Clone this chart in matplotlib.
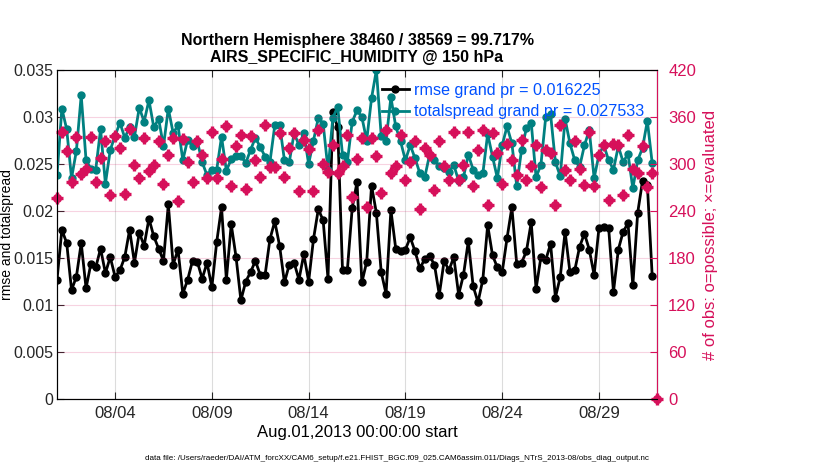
import numpy as np
import matplotlib
matplotlib.use("Agg")
import matplotlib.pyplot as plt
import matplotlib.dates as mdates

plt.rcParams["font.family"] = ["Liberation Sans", "DejaVu Sans"]

# 6-hourly times, Aug 01 2013 00Z .. Sep 01 2013 00Z
times = np.datetime64("2013-08-01T00:00") + np.arange(125) * np.timedelta64(6, "h")

rmse = [
    0.0127, 0.0180, 0.0166, 0.0116, 0.0130, 0.0166, 0.0118, 0.0144, 0.0140, 0.0160,
    0.0134, 0.0151, 0.0130, 0.0137, 0.0151, 0.0180, 0.0145, 0.0177, 0.0163, 0.0192,
    0.0173, 0.0160, 0.0147, 0.0207, 0.0143, 0.0159, 0.0112, 0.0127, 0.0147, 0.0146,
    0.0128, 0.0145, 0.0119, 0.0167, 0.0204, 0.0127, 0.0186, 0.0151, 0.0105, 0.0125,
    0.0135, 0.0147, 0.0132, 0.0132, 0.0170, 0.0189, 0.0163, 0.0124, 0.0143, 0.0145,
    0.0127, 0.0154, 0.0125, 0.0170, 0.0202, 0.0190, 0.0128, 0.0305, 0.0289, 0.0137,
    0.0137, 0.0203, 0.0231, 0.0124, 0.0146, 0.0227, 0.0198, 0.0135, 0.0112, 0.0201,
    0.0160, 0.0157, 0.0159, 0.0172, 0.0157, 0.0139, 0.0149, 0.0152, 0.0143, 0.0111,
    0.0147, 0.0137, 0.0151, 0.0111, 0.0132, 0.0168, 0.0120, 0.0103, 0.0127, 0.0185,
    0.0153, 0.0140, 0.0135, 0.0171, 0.0204, 0.0144, 0.0145, 0.0157, 0.0188, 0.0117,
    0.0151, 0.0148, 0.0165, 0.0108, 0.0130, 0.0178, 0.0135, 0.0137, 0.0162, 0.0176,
    0.0159, 0.0132, 0.0182, 0.0183, 0.0182, 0.0114, 0.0159, 0.0178, 0.0187, 0.0121,
    0.0198, 0.0232, 0.0228, 0.0131, np.nan,
]

spread = [
    0.0238, 0.0309, 0.0287, 0.0235, 0.0264, 0.0323, 0.0254, 0.0245, 0.0244, 0.0287,
    0.0229, 0.0265, 0.0280, 0.0294, 0.0278, 0.0289, 0.0279, 0.0310, 0.0295, 0.0318,
    0.0289, 0.0298, 0.0269, 0.0309, 0.0283, 0.0291, 0.0254, 0.0276, 0.0269, 0.0274,
    0.0252, 0.0238, 0.0244, 0.0244, 0.0279, 0.0243, 0.0255, 0.0259, 0.0259, 0.0251,
    0.0265, 0.0278, 0.0268, 0.0258, 0.0252, 0.0291, 0.0292, 0.0254, 0.0252, 0.0283,
    0.0270, 0.0283, 0.0250, 0.0275, 0.0299, 0.0293, 0.0244, 0.0299, 0.0311, 0.0260,
    0.0252, 0.0295, 0.0307, 0.0300, 0.0275, 0.0320, 0.0350, 0.0280, 0.0275, 0.0321,
    0.0290, 0.0274, 0.0254, 0.0270, 0.0256, 0.0240, 0.0236, 0.0260, 0.0254, 0.0248,
    0.0246, 0.0242, 0.0249, 0.0232, 0.0236, 0.0260, 0.0244, 0.0238, 0.0240, 0.0282,
    0.0258, 0.0235, 0.0270, 0.0290, 0.0272, 0.0227, 0.0265, 0.0288, 0.0294, 0.0236,
    0.0249, 0.0300, 0.0303, 0.0252, 0.0237, 0.0298, 0.0272, 0.0254, 0.0247, 0.0270,
    0.0286, 0.0235, 0.0260, 0.0270, 0.0254, 0.0244, 0.0269, 0.0252, 0.0261, 0.0224,
    0.0254, 0.0267, 0.0296, 0.0251, np.nan,
]

nobs = [
    257, 341, 316, 277, 334, 287, 294, 335, 277, 308,
    329, 261, 336, 321, 262, 345, 299, 282, 333, 291,
    299, 329, 274, 311, 333, 253, 332, 303, 277, 330,
    311, 282, 341, 282, 306, 349, 272, 323, 337, 268,
    336, 305, 284, 350, 296, 296, 339, 283, 321, 340,
    265, 331, 319, 266, 343, 300, 290, 324, 289, 297,
    337, 258, 307, 333, 245, 333, 310, 263, 343, 288,
    297, 337, 280, 303, 329, 243, 320, 311, 267, 329,
    297, 280, 341, 280, 299, 341, 272, 318, 344, 248,
    340, 314, 274, 326, 305, 286, 331, 280, 297, 324,
    271, 318, 314, 248, 350, 292, 280, 329, 294, 273,
    341, 272, 311, 324, 254, 326, 324, 260, 337, 294,
    288, 323, 271, 288, 0,
]

title = "Northern Hemisphere 38460 / 38569 = 99.717%\nAIRS_SPECIFIC_HUMIDITY @ 150 hPa"
legend_labels = ["rmse grand pr = 0.016225", "totalspread grand pr = 0.027533"]
footnote = ("data file: /Users/raeder/DAI/ATM_forcXX/CAM6_setup/f.e21.FHIST_BGC.f09_025."
            "CAM6assim.011/Diags_NTrS_2013-08/obs_diag_output.nc")

red = "#D6105A"
teal = "#008080"
blue = "#0050FF"

fig = plt.figure(figsize=(8.3, 4.7), dpi=100)
ax = fig.add_axes([0.0687, 0.151, 0.7229, 0.7])

l1, = ax.plot(times, rmse, "-o", color="black", lw=2, ms=5, zorder=3)
l2, = ax.plot(times, spread, "-o", color=teal, lw=2, ms=5, zorder=3)
ax.set_ylim(0, 0.035)
ax.set_yticks(np.arange(0, 0.0351, 0.005))
ax.set_yticklabels(["0", "0.005", "0.01", "0.015", "0.02", "0.025", "0.03", "0.035"])
ax.set_xlim(np.datetime64("2013-08-01T00:00"), np.datetime64("2013-09-01T00:00"))
ax.set_xticks([np.datetime64("2013-08-%02dT00:00" % d) for d in (4, 9, 14, 19, 24, 29)])
ax.xaxis.set_major_formatter(mdates.DateFormatter("%m/%d"))
ax.grid(axis="x", color="#dcdcdc", lw=0.8)
ax.tick_params(direction="in", labelsize=12, length=5, top=True, colors="#262626")
ax.tick_params(axis="x", pad=5)
ax.tick_params(axis="y", labelsize=11.5, pad=2.5)
ax.set_xlabel("Aug.01,2013 00:00:00 start", fontsize=12, labelpad=3)
ax.set_ylabel("rmse and totalspread", fontsize=10)
ax.yaxis.set_label_coords(-0.071, 0.5)
ax.set_title(title, fontsize=11.5, fontweight="bold", pad=6, linespacing=1.15)

ax2 = ax.twinx()
ax2.plot(times, nobs, "o", mfc="none", mec=red, ms=5, mew=1.6, clip_on=False)
ax2.plot(times, nobs, "+", color=red, ms=8, mew=2.4, clip_on=False)
ax2.set_ylim(0, 420)
ax2.set_yticks(np.arange(0, 421, 60))
ax2.grid(axis="y", color=red, alpha=0.18, lw=0.8)
ax2.tick_params(direction="in", labelsize=12, length=5, colors=red, pad=8)
ax2.spines["right"].set_color(red)
ax2.set_ylabel("# of obs: o=possible; \u00d7=evaluated", fontsize=12, color=red)
ax2.yaxis.set_label_coords(1.077, 0.5)

leg = ax2.legend([l1, l2], legend_labels, loc="upper right", frameon=False,
                 fontsize=11.6, handlelength=1.7, handletextpad=0.3,
                 labelspacing=0.4, borderaxespad=0.5, borderpad=0.3)
for t in leg.get_texts():
    t.set_color(blue)

fig.text(0.478, 0.022, footnote, fontsize=5.8, ha="center")

fig.savefig("out.png", dpi=100)
